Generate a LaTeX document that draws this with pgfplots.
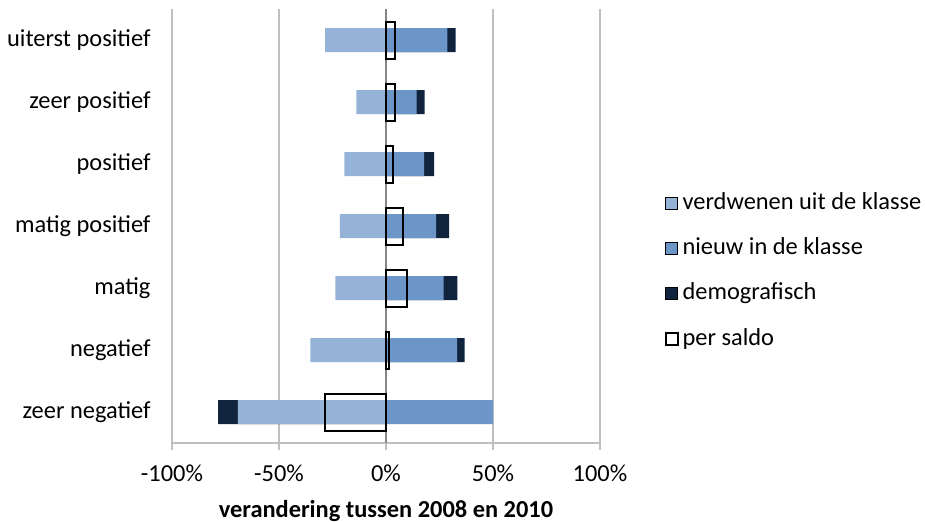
\documentclass[border=0pt]{standalone}
\usepackage{pgfplots}
\usepackage{pgfplotstable}
\pgfplotsset{compat=1.18}
\usepackage{fontspec}
\setmainfont{Carlito}

\definecolor{lichtblauw}{HTML}{95B3D7}
\definecolor{middenblauw}{HTML}{6C95C8}
\definecolor{donkerblauw}{HTML}{10243E}
\definecolor{rooster}{HTML}{BFBFBF}
\definecolor{nullijn}{HTML}{868686}

% klasse: 0 = zeer negatief ... 6 = uiterst positief (waarden in %)
\pgfplotstableread{
klasse verdwenen nieuw demo saldo
0 -69.2 50.0 -9.2 -28.4
1 -35.3 33.2  3.5   1.4
2 -23.6 26.9  6.5   9.8
3 -21.6 23.4  6.1   7.9
4 -19.4 17.8  4.7   3.1
5 -13.9 14.3  3.8   4.2
6 -28.4 28.7  3.8   4.1
}\klassen

\begin{document}
\begin{tikzpicture}
\fontsize{12.2}{15}\selectfont
\begin{axis}[
  width=214pt, height=217pt, scale only axis,
  xmin=-100, xmax=100, ymin=-0.5, ymax=6.5,
  axis x line*=bottom, axis y line*=left,
  x axis line style={rooster, line width=0.9pt},
  y axis line style={draw=none},
  xtick={-100,-50,0,50,100},
  xticklabels={-100\%,-50\%,0\%,50\%,100\%},
  tick align=outside, major tick length=3.5pt,
  xtick style={rooster, line width=0.9pt},
  xmajorgrids, grid style={rooster, line width=0.9pt},
  ytick={0,...,6},
  yticklabels={zeer negatief\ ,negatief,matig,matig positief,positief,zeer positief,uiterst positief},
  yticklabel style={anchor=east, xshift=-3pt},
  ytick style={draw=none},
  tick label style={font=\fontsize{12.2}{15}\selectfont},
  xticklabel style={yshift=-3pt},
  xlabel={\bfseries verandering tussen 2008 en 2010},
  xlabel style={font=\fontsize{12.2}{15}\selectfont, yshift=-1pt},
  xbar, bar shift=0pt,
  legend cell align=left,
  legend image code/.code={\draw[#1] (0pt,-3pt) rectangle (6pt,3pt);},
  legend style={draw=none, fill=none, font=\fontsize{12.2}{15}\selectfont,
    at={(axis description cs:1.15,0.397)}, anchor=west,
    row sep=8.3pt, inner sep=0pt},
]
% donker deel (totaal tot en met demografisch), daaroverheen de andere delen
\addplot[fill=donkerblauw, draw=none, bar width=12pt, forget plot]
  table[x expr={\thisrow{demo}>0 ? \thisrow{nieuw}+\thisrow{demo} : 0}, y=klasse]{\klassen};
\addplot[fill=donkerblauw, draw=none, bar width=12pt, forget plot]
  table[x expr={\thisrow{demo}<0 ? \thisrow{verdwenen}+\thisrow{demo} : 0}, y=klasse]{\klassen};
\addplot[fill=lichtblauw, draw=none, bar width=12pt]
  table[x=verdwenen, y=klasse]{\klassen};
\addplot[fill=middenblauw, draw=none, bar width=12pt]
  table[x=nieuw, y=klasse]{\klassen};
\addplot[fill=donkerblauw, draw=none, bar width=12pt]
  coordinates {(0,-5)};
\draw[nullijn, line width=0.9pt] (axis cs:0,-0.5) -- (axis cs:0,6.5);
\addplot[fill=none, draw=black, line width=1pt, bar width=18.5pt]
  table[x=saldo, y=klasse]{\klassen};
\legend{verdwenen uit de klasse, nieuw in de klasse, demografisch, per saldo}
\end{axis}
\pgfresetboundingbox
\path[use as bounding box] (-86pt,-39pt) rectangle (376.5pt,221.5pt);
\end{tikzpicture}
\end{document}
